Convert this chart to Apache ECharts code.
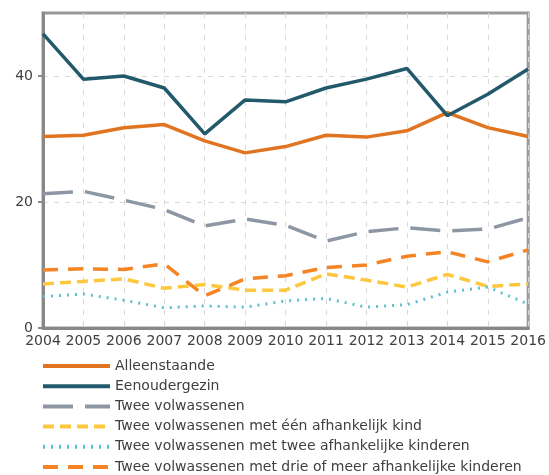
<!DOCTYPE html>
<html>
<head>
<meta charset="utf-8">
<script src="https://cdn.jsdelivr.net/npm/echarts@6/dist/echarts.min.js"></script>
<style>
  html, body { margin: 0; padding: 0; background: #fff; }
  #chart { width: 549px; height: 475px; }
</style>
</head>
<body>
<div id="chart"></div>
<script>
// jaren
const years = ['2004', '2005', '2006', '2007', '2008', '2009', '2010', '2011', '2012', '2013', '2014', '2015', '2016']

// waarden per huishoudtype (%)
const alleenstaande = [30.4, 30.6, 31.8, 32.3, 29.7, 27.8, 28.8, 30.6, 30.3, 31.3, 34.2, 31.8, 30.4]
const eenoudergezin = [46.7, 39.5, 40.0, 38.1, 30.8, 36.2, 35.9, 38.1, 39.5, 41.2, 33.7, 37.1, 41.1]
const tweeVolw = [21.3, 21.7, 20.3, 18.8, 16.2, 17.3, 16.3, 13.8, 15.3, 15.9, 15.4, 15.7, 17.5]
const eenKind = [7.0, 7.4, 7.8, 6.3, 6.9, 6.0, 6.0, 8.6, 7.6, 6.5, 8.5, 6.6, 7.0]
const tweeKinderen = [5.0, 5.4, 4.4, 3.2, 3.5, 3.3, 4.3, 4.7, 3.3, 3.7, 5.7, 6.5, 3.8]
const drieKinderen = [9.2, 9.4, 9.3, 10.2, 5.1, 7.8, 8.3, 9.6, 10.0, 11.4, 12.1, 10.5, 12.4]

const yTicks = [0, 20, 40]

const textColor = '#404040'
const fontFamily = 'DejaVu Sans'

const chart = echarts.init(document.getElementById('chart'))

const mkLine = (name, data, color, type, width) => ({
  name,
  type: 'line',
  data,
  symbol: 'none',
  animation: false,
  lineStyle: { color, width, type, cap: type === 'dotted' ? 'round' : 'butt' },
  itemStyle: { color }
})

const option = {
  animation: false,
  grid: {
    left: 43,
    right: 18,
    top: 13,
    bottom: 147,
    show: true,
    borderColor: '#999',
    borderWidth: 3
  },
  xAxis: {
    type: 'category',
    data: years,
    boundaryGap: false,
    axisLine: { lineStyle: { color: '#888', width: 3 } },
    axisTick: { show: false },
    axisLabel: { color: textColor, fontSize: 14, fontFamily, margin: 6, interval: 0 },
    splitLine: { show: true, lineStyle: { color: '#d9d9d9', type: [5, 6], width: 1 } }
  },
  yAxis: {
    type: 'value',
    min: 0,
    max: 50,
    interval: 10,
    axisLine: { show: true, lineStyle: { color: '#888', width: 3 } },
    axisTick: { show: true, length: 5, lineStyle: { color: '#888', width: 2 }, customValues: yTicks },
    axisLabel: { color: textColor, fontSize: 14, fontFamily, margin: 10, customValues: yTicks },
    splitLine: { show: true, lineStyle: { color: '#d9d9d9', type: [5, 6], width: 1 } }
  },
  legend: {
    orient: 'vertical',
    left: 41,
    top: 359,
    padding: 0,
    itemWidth: 67,
    itemHeight: 14,
    itemGap: 6.2,
    itemStyle: { opacity: 0 },
    lineStyle: { width: 4 },
    textStyle: { color: textColor, fontSize: 14, fontFamily, lineHeight: 14 },
    data: ['Alleenstaande', 'Eenoudergezin', 'Twee volwassenen',
      'Twee volwassenen met één afhankelijk kind',
      'Twee volwassenen met twee afhankelijke kinderen',
      'Twee volwassenen met drie of meer afhankelijke kinderen']
  },
  series: [
    mkLine('Alleenstaande', alleenstaande, '#e07420', 'solid', 3.5),
    mkLine('Eenoudergezin', eenoudergezin, '#225a6b', 'solid', 3.5),
    mkLine('Twee volwassenen', tweeVolw, '#8d97a3', [30, 12], 3.5),
    mkLine('Twee volwassenen met één afhankelijk kind', eenKind, '#fdc73e', [11, 6], 3.5),
    mkLine('Twee volwassenen met twee afhankelijke kinderen', tweeKinderen, '#5dbfd1', [2, 6], 3),
    mkLine('Twee volwassenen met drie of meer afhankelijke kinderen', drieKinderen, '#f58524', [15, 10], 3.5)
  ]
}

chart.setOption(option)
</script>
</body>
</html>
